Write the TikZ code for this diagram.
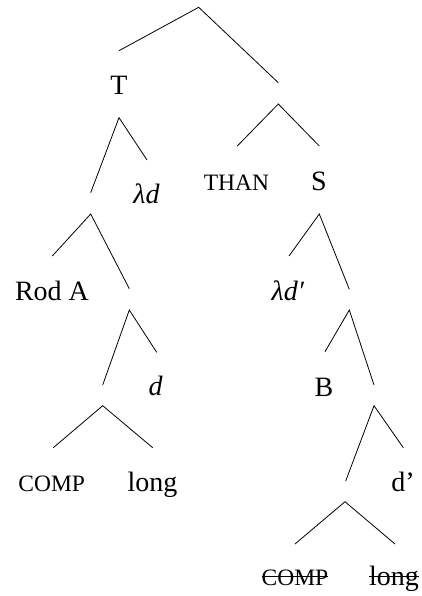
\documentclass[tikz,border=0pt]{standalone}
\usepackage{fontspec}
\setmainfont{Liberation Serif}
\newcommand\mystrike[1]{\setbox0\hbox{#1}\rlap{\rule[8.3pt]{\wd0}{0.9pt}}\box0}
\tikzset{
  br/.style={line width=0.8pt, black},
  lab/.style={anchor=base, inner sep=0pt, font=\fontsize{28}{30}\selectfont},
  sc/.style={anchor=base, inner sep=0pt, font=\fontsize{23.5}{26}\selectfont},
}
\begin{document}
\begin{tikzpicture}[x=1pt,y=-1pt]
\useasboundingbox (0,0) rectangle (422,596);
% coordinates of branches
\coordinate (root) at (198.7,7.3);
\coordinate (rl) at (119,50.7);
\coordinate (rr) at (278.3,82.7);
\coordinate (Ta) at (119,117.7);
\coordinate (Tl) at (90.7,192.7);
\coordinate (Tr) at (147,160);
\coordinate (Na) at (278.3,104);
\coordinate (Nl) at (237.3,146);
\coordinate (Nr) at (319.3,146);
\coordinate (Aa) at (90.7,214);
\coordinate (Al) at (52.3,256);
\coordinate (Ar) at (129.3,288.7);
\coordinate (Sa) at (319.3,214);
\coordinate (Sl) at (289,256);
\coordinate (Sr) at (349.3,289.3);
\coordinate (Ca) at (129.3,310);
\coordinate (Cl) at (102.7,385);
\coordinate (Cr) at (156.7,352.3);
\coordinate (Da) at (349.3,310);
\coordinate (Dl) at (325,351.7);
\coordinate (Dr) at (374,385);
\coordinate (Ea) at (102.7,405.7);
\coordinate (El) at (53.3,447.7);
\coordinate (Er) at (152.7,447.7);
\coordinate (Fa) at (374,405.7);
\coordinate (Fl) at (345.7,481);
\coordinate (Fr) at (403.3,447.7);
\coordinate (Ga) at (345,501.7);
\coordinate (Gl) at (295,544);
\coordinate (Gr) at (395,544);
% branches
\draw[br] (rl) -- (root) -- (rr);
\draw[br] (Tl) -- (Ta) -- (Tr);
\draw[br] (Nl) -- (Na) -- (Nr);
\draw[br] (Al) -- (Aa) -- (Ar);
\draw[br] (Sl) -- (Sa) -- (Sr);
\draw[br] (Cl) -- (Ca) -- (Cr);
\draw[br] (Dl) -- (Da) -- (Dr);
\draw[br] (El) -- (Ea) -- (Er);
\draw[br] (Fl) -- (Fa) -- (Fr);
\draw[br] (Gl) -- (Ga) -- (Gr);
% labels
\node[lab] (T) at (119,95) {T};
\node[lab] (ld) at (146.5,203.3) {\textit{λd}};
\node[sc] (than) at (236.5,190) {THAN};
\node[lab] (S) at (319,190.7) {S};
\node[lab] (rod) at (52,300.7) {Rod A};
\node[lab] (ldp) at (288,300.7) {\textit{λd′}};
\node[lab] (d) at (155.7,395) {\textit{d}};
\node[lab] (B) at (324,396) {B};
\node[sc] (comp) at (51.7,491.7) {COMP};
\node[lab] (long) at (152.5,491.7) {long};
\node[lab] (dp) at (403,491.7) {d’};
\node[sc] (comps) at (295,585) {\mystrike{COMP}};
\node[lab] (longs) at (394,585) {\mystrike{long}};
\end{tikzpicture}
\end{document}
